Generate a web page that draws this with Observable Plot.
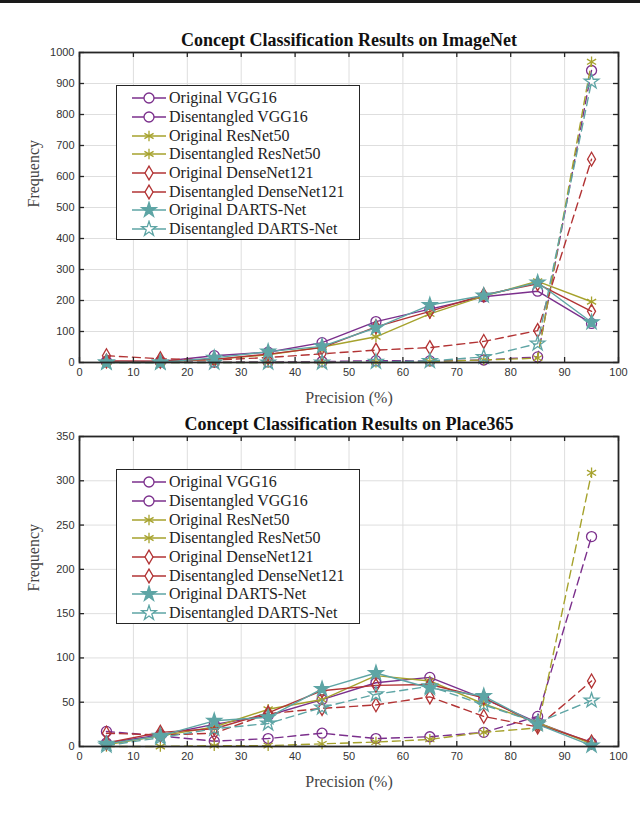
<!DOCTYPE html>
<html>
<head>
<meta charset="utf-8">
<script src="https://cdn.jsdelivr.net/npm/d3@7"></script>
<script src="https://cdn.jsdelivr.net/npm/@observablehq/plot@0.6"></script>
<style>
  html, body { margin: 0; padding: 0; background: #fff; }
  #page { position: relative; width: 640px; height: 819px; overflow: hidden; background: #fff; }
  #topbar { position: absolute; left: 0; top: 0; width: 640px; height: 3px; background: #1a1a1a; }
  .chart { position: absolute; left: 0; }
  .legend { position: absolute; background: #fff; border: 1.5px solid #262626; box-sizing: border-box;
            font-family: "Liberation Serif", "Times New Roman", serif; font-size: 16px; color: #222; padding-top: 3px; }
  .legend .row { display: flex; align-items: center; height: 18.7px; white-space: nowrap; }
  .legend svg { display: block; margin-left: 14px; margin-right: 2px; }
</style>
</head>
<body>
<div id="page">
  <div id="topbar"></div>
  <div id="chart1" class="chart" style="top:0px"></div>
  <div id="chart2" class="chart" style="top:384px"></div>
</div>
<script>
// ---------- data ----------
const bins = [5, 15, 25, 35, 45, 55, 65, 75, 85, 95];
const xTicks = [0, 10, 20, 30, 40, 50, 60, 70, 80, 90, 100];
const imagenetYTicks = [0, 100, 200, 300, 400, 500, 600, 700, 800, 900, 1000];
const placeYTicks = [0, 50, 100, 150, 200, 250, 300, 350];

const seriesNames = [
  "Original VGG16", "Disentangled VGG16",
  "Original ResNet50", "Disentangled ResNet50",
  "Original DenseNet121", "Disentangled DenseNet121",
  "Original DARTS-Net", "Disentangled DARTS-Net"
];

// ImageNet
const imagenetOrigVGG16       = [3, 3, 22, 33, 64, 132, 172, 212, 230, 126];
const imagenetDisVGG16        = [3, 2, 1, 2, 3, 6, 5, 8, 18, 942];
const imagenetOrigResNet50    = [1, 2, 10, 25, 50, 83, 157, 214, 262, 196];
const imagenetDisResNet50     = [0, 0, 0, 0, 0, 1, 3, 8, 14, 970];
const imagenetOrigDenseNet121 = [5, 4, 10, 27, 48, 115, 165, 218, 254, 165];
const imagenetDisDenseNet121  = [22, 12, 8, 16, 28, 40, 48, 68, 103, 656];
const imagenetOrigDARTS       = [0, 0, 15, 35, 52, 112, 185, 216, 258, 130];
const imagenetDisDARTS        = [0, 0, 0, 0, 0, 2, 5, 18, 61, 906];

// Place365
const placeOrigVGG16       = [4, 13, 25, 35, 53, 72, 78, 54, 27, 4];
const placeDisVGG16        = [17, 12, 6, 9, 15, 9, 11, 16, 34, 237];
const placeOrigResNet50    = [2, 12, 22, 42, 53, 80, 74, 48, 27, 3];
const placeDisResNet50     = [0, 0, 1, 1, 3, 5, 8, 16, 21, 309];
const placeOrigDenseNet121 = [4, 16, 20, 38, 63, 69, 70, 55, 25, 5];
const placeDisDenseNet121  = [15, 13, 15, 37, 43, 47, 56, 34, 22, 74];
const placeOrigDARTS       = [3, 12, 29, 33, 65, 83, 66, 57, 25, 1];
const placeDisDARTS        = [1, 10, 20, 26, 44, 59, 68, 47, 27, 52];

const imagenetSeries = [imagenetOrigVGG16, imagenetDisVGG16, imagenetOrigResNet50, imagenetDisResNet50,
  imagenetOrigDenseNet121, imagenetDisDenseNet121, imagenetOrigDARTS, imagenetDisDARTS];
const placeSeries = [placeOrigVGG16, placeDisVGG16, placeOrigResNet50, placeDisResNet50,
  placeOrigDenseNet121, placeDisDenseNet121, placeOrigDARTS, placeDisDARTS];

// ---------- styles ----------
const colors = ["#7b2f8c", "#7b2f8c", "#a6a22c", "#a6a22c", "#b23334", "#b23334", "#5ea5a5", "#5ea5a5"];
const symbols = ["circle", "circle", "asterisk", "asterisk", "diamond", "diamond", "star", "star"];
const radii = [5, 5, 5, 5, 4.2, 4.2, 4.6, 4.6];
const fills = ["none", "none", "none", "none", "none", "none", "#5ea5a5", "none"];
const dashes = [null, "8,5", null, "8,5", null, "8,5", null, "8,5"];

function makeChart(el, title, seriesValues, yDomain, yTicks, height, marginBottom) {
  const W = 640, mL = 79, mR = 22, mT = 52;
  const plotH = height - mT - marginBottom;
  const plotW = W - mL - mR;
  const marks = [
    Plot.gridX(xTicks, {stroke: "#dedede", strokeOpacity: 1, strokeWidth: 1}),
    Plot.gridY(yTicks, {stroke: "#dedede", strokeOpacity: 1, strokeWidth: 1}),
  ];
  seriesValues.forEach((vals, i) => {
    const data = bins.map((b, j) => ({x: b, y: vals[j]}));
    const lineOpts = {x: "x", y: "y", stroke: colors[i], strokeWidth: 1.4};
    if (dashes[i]) lineOpts.strokeDasharray = dashes[i];
    marks.push(Plot.line(data, lineOpts));
    marks.push(Plot.dot(data, {x: "x", y: "y", symbol: symbols[i], r: radii[i],
      stroke: colors[i], fill: fills[i], strokeWidth: 1.3}));
  });
  const serif = "Liberation Serif, Times New Roman, serif";
  const sans = "Liberation Sans, Arial, sans-serif";
  marks.push(
    Plot.tickX(xTicks, {x: d => d, insetTop: plotH - 5, stroke: "#262626", strokeWidth: 1.3}),
    Plot.tickX(xTicks, {x: d => d, insetBottom: plotH - 5, stroke: "#262626", strokeWidth: 1.3}),
    Plot.tickY(yTicks, {y: d => d, insetRight: plotW - 5, stroke: "#262626", strokeWidth: 1.3}),
    Plot.tickY(yTicks, {y: d => d, insetLeft: plotW - 5, stroke: "#262626", strokeWidth: 1.3}),
    Plot.frame({stroke: "#262626", strokeWidth: 1.8}),
    Plot.axisX(xTicks, {tickSize: 0, tickPadding: 6, label: null, fontSize: 11, tickFormat: d => String(d),
      fontFamily: sans, color: "#333"}),
    Plot.axisY(yTicks, {tickSize: 0, tickPadding: 5, label: null, fontSize: 11, tickFormat: d => String(d),
      fontFamily: sans, color: "#333"}),
    Plot.text([title], {frameAnchor: "top", lineAnchor: "middle", dy: -12, fontSize: 18, fontWeight: "bold",
      fontFamily: serif, fill: "#111"}),
    Plot.text(["Precision (%)"], {frameAnchor: "bottom", lineAnchor: "middle", dy: 35, fontSize: 16,
      fontFamily: serif, fill: "#444"}),
    Plot.text(["Frequency"], {frameAnchor: "left", lineAnchor: "middle", dx: -46, rotate: -90, fontSize: 16,
      fontFamily: serif, fill: "#444"})
  );
  const chart = Plot.plot({
    width: W, height,
    marginLeft: mL, marginRight: mR, marginTop: mT, marginBottom,
    x: {domain: [0, 100]},
    y: {domain: yDomain},
    style: {background: "transparent", overflow: "visible"},
    marks
  });
  document.getElementById(el).appendChild(chart);
}

function makeLegend(left, top) {
  const page = document.getElementById("page");
  const box = document.createElement("div");
  box.className = "legend";
  box.style.left = left + "px";
  box.style.top = top + "px";
  box.style.width = "244px";
  box.style.height = "155px";
  const symMap = {circle: d3.symbolCircle, asterisk: d3.symbolAsterisk, diamond: d3.symbolDiamond, star: d3.symbolStar};
  seriesNames.forEach((name, i) => {
    const row = document.createElement("div");
    row.className = "row";
    const svg = d3.create("svg").attr("width", 36).attr("height", 18);
    svg.append("line").attr("x1", 1).attr("x2", 35).attr("y1", 9).attr("y2", 9)
      .attr("stroke", colors[i]).attr("stroke-width", 1.4);
    const r = radii[i];
    svg.append("path").attr("d", d3.symbol(symMap[symbols[i]], Math.PI * r * r)())
      .attr("transform", "translate(18,9)")
      .attr("stroke", colors[i]).attr("stroke-width", 1.3)
      .attr("fill", fills[i] === "none" ? "#fff" : fills[i]);
    row.appendChild(svg.node());
    const span = document.createElement("span");
    span.textContent = name;
    row.appendChild(span);
    box.appendChild(row);
  });
  page.appendChild(box);
}

makeChart("chart1", "Concept Classification Results on ImageNet", imagenetSeries, [0, 1000], imagenetYTicks, 409, 47);
makeChart("chart2", "Concept Classification Results on Place365", placeSeries, [0, 350], placeYTicks, 435, 73);
makeLegend(116, 85);
makeLegend(116, 469);
</script>
</body>
</html>
